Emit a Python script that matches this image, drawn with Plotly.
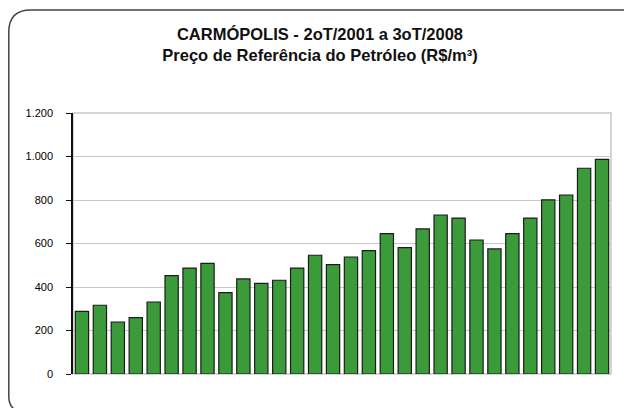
import plotly.graph_objects as go

# quarters 2oT/2001 .. 3oT/2008
trimestres = []
for ano in range(2001, 2009):
    for t in range(1, 5):
        if (ano == 2001 and t < 2) or (ano == 2008 and t > 3):
            continue
        trimestres.append(f"{t}oT/{ano}")

precos = [288, 316, 239, 259, 331, 452, 487, 509, 374, 437,
          417, 431, 487, 546, 503, 538, 567, 645, 581, 667,
          731, 717, 616, 575, 645, 717, 801, 823, 946, 987]

# page has an 8px body margin, so the figure is drawn from (8, 8)
OFF = 8
W, H = 632 - OFF, 408 - OFF
L, R, T, B = 73 - OFF, 21, 113 - OFF, 34
pw, ph = W - L - R, H - T - B


def px(x):
    return (x - OFF - L) / pw


def py(y):
    return (H - B - (y - OFF)) / ph


fig = go.Figure()
fig.add_trace(
    go.Bar(
        x=trimestres,
        y=precos,
        marker=dict(color="#3b9b3b", line=dict(color="#1c1c1c", width=1.2)),
        width=0.74,
        hovertemplate="%{x}: %{y}<extra></extra>",
    )
)

# plot area frame (gray)
fig.add_shape(type="rect", xref="paper", yref="paper", x0=0, y0=0, x1=1, y1=1,
              line=dict(color="#c8c8c8", width=1.5), layer="below")

# rounded outer border (right and bottom run off the page)
x0, x1 = px(8.8), px(650)
y0, y1 = py(10), py(412)
rx, ry = 22 / pw, 22 / ph
bx, by = 16 / pw, 16 / ph
path = (
    f"M {x0 + rx},{y0} L {x1},{y0} "
    f"M {x0 + bx},{y1} Q {x0},{y1} {x0},{y1 + by} "
    f"L {x0},{y0 - ry} "
    f"Q {x0},{y0} {x0 + rx},{y0}"
)
fig.add_shape(type="path", xref="paper", yref="paper", path=path,
              line=dict(color="#444444", width=1.5))

fig.update_layout(
    width=W,
    height=H,
    margin=dict(l=L, r=R, t=T, b=B),
    paper_bgcolor="white",
    plot_bgcolor="white",
    showlegend=False,
    separators=",.",
    bargap=0.26,
    font=dict(family="Liberation Sans, Arial, sans-serif", size=11, color="#000000"),
    title=dict(
        text="<b>CARMÓPOLIS - 2oT/2001 a 3oT/2008<br>Preço de Referência do Petróleo (R$/m³)</b>",
        x=0.5,
        xanchor="center",
        y=1 - 32 / H,
        yanchor="top",
        font=dict(size=16.5, color="#111111"),
    ),
)

fig.update_xaxes(showticklabels=False, ticks="", showgrid=False,
                 showline=False, zeroline=False)
fig.update_yaxes(
    range=[0, 1200],
    dtick=200,
    tickformat=",d",
    showgrid=True,
    gridcolor="#c8c8c8",
    gridwidth=1.2,
    showline=True,
    linecolor="#111111",
    linewidth=1.5,
    ticks="outside",
    ticklen=5,
    tickcolor="#111111",
    ticklabelstandoff=11,
    zeroline=False,
    tickfont=dict(size=11),
)

fig.write_html("out.html")
